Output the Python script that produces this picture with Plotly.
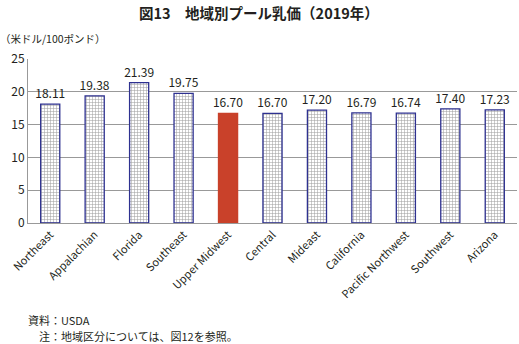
import plotly.graph_objects as go

regions = ["Northeast", "Appalachian", "Florida", "Southeast", "Upper Midwest", "Central",
           "Mideast", "California", "Pacific Northwest", "Southwest", "Arizona"]
prices = [18.11, 19.38, 21.39, 19.75, 16.70, 16.70, 17.20, 16.79, 16.74, 17.40, 17.23]
labels = ["18.11", "19.38", "21.39", "19.75", "16.70", "16.70", "17.20", "16.79", "16.74", "17.40", "17.23"]
highlight = "Upper Midwest"
y_ticks = [0, 5, 10, 15, 20, 25]

W, H = 519, 344
ML, MR, MT, MB = 28, 2, 59, 121
PW = W - ML - MR
PH = H - MT - MB

navy = "#2e3190"
red = "#c9412a"
txt = "#231f20"
font = "Noto Sans CJK JP"

fills = [red if r == highlight else "white" for r in regions]
shapes_p = ["" if r == highlight else "+" for r in regions]
lines = [red if r == highlight else navy for r in regions]

fig = go.Figure()
fig.add_trace(go.Bar(
    x=regions, y=prices, text=labels, textposition="outside", cliponaxis=False,
    constraintext="none",
    textfont=dict(size=12, color=txt, family=font),
    marker=dict(color=fills, line=dict(color=lines, width=1.3),
                pattern=dict(shape=shapes_p, fgcolor=navy, bgcolor="white", size=3, solidity=0.33)),
))

def px(x):
    return (x - ML) / PW

def py(y):
    return (H - MB - y) / PH

anns = [
    dict(text="<b>図13　地域別プール乳価（2019年）</b>", x=px(259), y=py(13), xanchor="center", yanchor="middle",
         font=dict(size=14.5, color=txt, family=font)),
    dict(text="（米ドル/100ポンド）", x=px(-2), y=py(38), xanchor="left", yanchor="middle",
         font=dict(size=10.5, color=txt, family=font)),
    dict(text="資料：USDA", x=px(26), y=py(320), xanchor="left", yanchor="middle",
         font=dict(size=11, color=txt, family=font)),
    dict(text="注：地域区分については、図12を参照。", x=px(37), y=py(336), xanchor="left", yanchor="middle",
         font=dict(size=11, color=txt, family=font)),
]
for a in anns:
    a.update(xref="paper", yref="paper", showarrow=False)

fig.update_layout(
    width=W, height=H, margin=dict(l=ML, r=MR, t=MT, b=MB),
    paper_bgcolor="white", plot_bgcolor="white",
    bargap=0.57, showlegend=False, annotations=anns,
    font=dict(family=font, color=txt),
)
fig.update_xaxes(tickangle=-45, tickfont=dict(size=11, color=txt, family=font),
                 showline=True, linecolor="#999999", linewidth=1, ticks="", showgrid=False)
fig.update_yaxes(range=[0, 25], tickvals=y_ticks, tickfont=dict(size=12, color=txt, family=font),
                 showline=True, linecolor="#999999", linewidth=1, showgrid=True, gridcolor="#999999",
                 gridwidth=1, zeroline=False, ticks="", ticklen=0)

fig.write_html("out.html")
